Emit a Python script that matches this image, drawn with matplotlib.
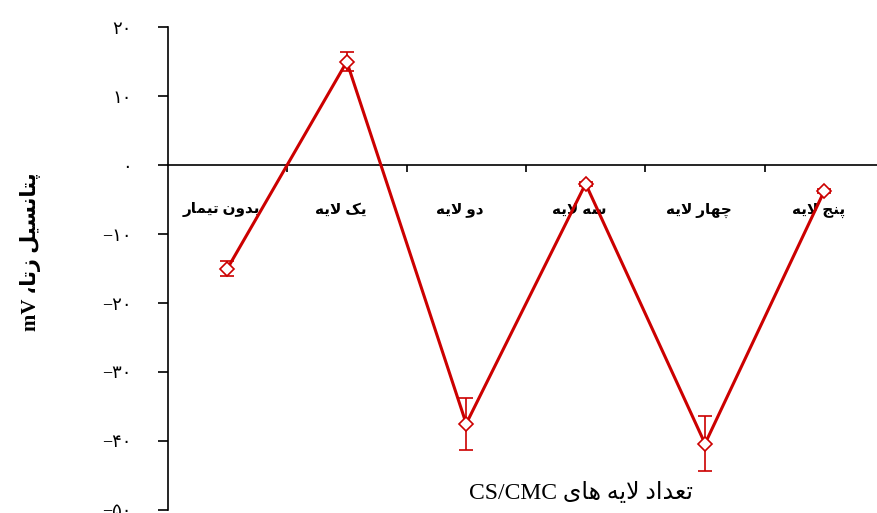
import matplotlib
matplotlib.use("Agg")
import matplotlib.pyplot as plt

categories = ["بدون تیمار", "یک لایه", "دو لایه", "سه لایه", "چهار لایه", "پنج لایه"]
zeta = [-15.0, 15.0, -37.5, -2.7, -40.4, -3.7]
zeta_err = [1.1, 1.4, 3.8, 0.3, 4.0, 0.3]
yticks = [20, 10, 0, -10, -20, -30, -40, -50]

# presentation forms: isolated, final, initial, medial (None = does not join forward)
FORMS = {
    "ا": ("\uFE8D", "\uFE8E", None, None),
    "ب": ("\uFE8F", "\uFE90", "\uFE91", "\uFE92"),
    "پ": ("\uFB56", "\uFB57", "\uFB58", "\uFB59"),
    "ت": ("\uFE95", "\uFE96", "\uFE97", "\uFE98"),
    "ج": ("\uFE9D", "\uFE9E", "\uFE9F", "\uFEA0"),
    "چ": ("\uFB7A", "\uFB7B", "\uFB7C", "\uFB7D"),
    "د": ("\uFEA9", "\uFEAA", None, None),
    "ر": ("\uFEAD", "\uFEAE", None, None),
    "ز": ("\uFEAF", "\uFEB0", None, None),
    "س": ("\uFEB1", "\uFEB2", "\uFEB3", "\uFEB4"),
    "ع": ("\uFEC9", "\uFECA", "\uFECB", "\uFECC"),
    "ک": ("\uFB8E", "\uFB8F", "\uFB90", "\uFB91"),
    "ل": ("\uFEDD", "\uFEDE", "\uFEDF", "\uFEE0"),
    "م": ("\uFEE1", "\uFEE2", "\uFEE3", "\uFEE4"),
    "ن": ("\uFEE5", "\uFEE6", "\uFEE7", "\uFEE8"),
    "ه": ("\uFEE9", "\uFEEA", "\uFEEB", "\uFEEC"),
    "و": ("\uFEED", "\uFEEE", None, None),
    "ی": ("\uFBFC", "\uFBFD", "\uFBFE", "\uFBFF"),
}


def fa(s):
    # shape persian text and reverse it so matplotlib draws it right to left
    out = []
    i = 0
    prev_joins = False
    while i < len(s):
        ch = s[i]
        if ch not in FORMS:
            out.append(ch)
            prev_joins = False
            i += 1
            continue
        if ch == "ل" and i + 1 < len(s) and s[i + 1] == "ا":
            out.append("\uFEFC" if prev_joins else "\uFEFB")
            prev_joins = False
            i += 2
            continue
        f = FORMS[ch]
        nxt = s[i + 1] if i + 1 < len(s) else ""
        joins_next = f[2] is not None and nxt in FORMS
        if prev_joins and joins_next:
            out.append(f[3])
        elif prev_joins:
            out.append(f[1])
        elif joins_next:
            out.append(f[2])
        else:
            out.append(f[0])
        prev_joins = joins_next
        i += 1
    return "".join(reversed(out))


def fa_num(v):
    digits = "".join("۰۱۲۳۴۵۶۷۸۹"[int(d)] for d in str(abs(v)))
    return ("\u2212" if v < 0 else "") + digits


plt.rcParams["font.family"] = ["Liberation Serif", "DejaVu Sans"]
red = "#CC0000"

fig = plt.figure(figsize=(8.78, 5.13), dpi=100)
ax = fig.add_axes([0.191, 0.006, 0.816, 0.941])

x = [i + 0.5 for i in range(len(categories))]
ax.errorbar(x, zeta, yerr=zeta_err, fmt="none", ecolor=red, elinewidth=1.2,
            capsize=5, capthick=1.2, zorder=3)
ax.plot(x, zeta, color=red, lw=2.2, marker="D", ms=7.5, mfc="white",
        mec=red, mew=1.2, zorder=4)

ax.set_xlim(0, 6)
ax.set_ylim(-50, 20)
ax.spines["top"].set_visible(False)
ax.spines["right"].set_visible(False)
ax.spines["bottom"].set_position(("data", 0))
ax.spines["left"].set_linewidth(1.2)
ax.spines["bottom"].set_linewidth(1.2)

ax.set_yticks(yticks)
ax.set_yticklabels([fa_num(v) for v in yticks], fontsize=13)
ax.tick_params(axis="y", direction="out", length=7, width=1.2, pad=19)
ax.set_xticks(range(1, 6))
ax.set_xticklabels([])
ax.tick_params(axis="x", direction="out", length=5, width=1.2)

for xi, c in zip(x, categories):
    ax.text(xi - 0.05, -6.5, fa(c), ha="center", va="center", fontsize=11,
            fontweight="bold", zorder=2)

ax.text(3.46, -47.5, "CS/CMC " + fa("تعداد لایه های"), ha="center",
        va="center", fontsize=17)
fig.text(0.035, 0.51, "mV " + fa("پتانسیل زتا،"), rotation=90, ha="center",
         va="center", fontsize=15, fontweight="bold")

fig.savefig("out.png", dpi=100)
